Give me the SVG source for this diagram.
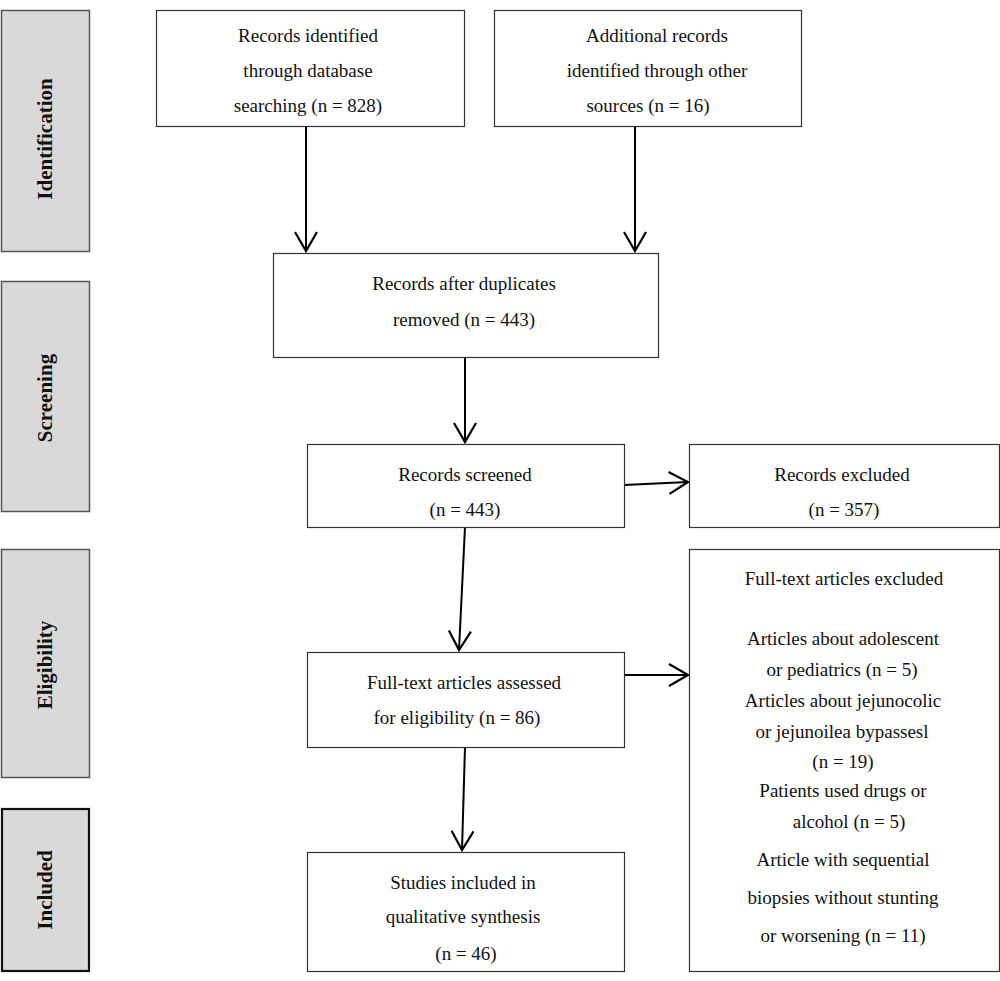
<svg xmlns="http://www.w3.org/2000/svg" width="1000" height="981" viewBox="0 0 1000 981">
<defs>
<marker id="arr" viewBox="0 0 24 24" refX="21" refY="12" markerWidth="24" markerHeight="24" markerUnits="userSpaceOnUse" orient="auto">
<path d="M2,1 L21,12 L2,23" fill="none" stroke="#000" stroke-width="2.2"/>
</marker>
<style>
.bar{fill:#d9d9d9;stroke:#555;stroke-width:1.5}
.box{fill:#fff;stroke:#333;stroke-width:1.2}
.t{font-family:"Liberation Serif","DejaVu Serif",serif;font-size:19px;fill:#111;text-anchor:middle}
.s{font-family:"Liberation Serif","DejaVu Serif",serif;font-size:21px;font-weight:bold;fill:#111;text-anchor:middle}
.c{stroke:#000;stroke-width:2;fill:none;marker-end:url(#arr)}
</style>
</defs>
<rect width="1000" height="981" fill="#fff"/>
<g id="stages">
<g id="identification"><rect class="bar" x="1.5" y="10.5" width="88" height="241"/><text class="s" transform="translate(52,139) rotate(-90)">Identification</text></g>
<g id="screening"><rect class="bar" x="1.5" y="281.5" width="88" height="230"/><text class="s" transform="translate(52,398) rotate(-90)">Screening</text></g>
<g id="eligibility"><rect class="bar" x="1.5" y="549.5" width="88" height="228"/><text class="s" transform="translate(52,665) rotate(-90)">Eligibility</text></g>
<g id="included"><rect class="bar" x="2" y="809" width="87" height="162" style="stroke:#111;stroke-width:2.2"/><text class="s" transform="translate(52,890) rotate(-90)">Included</text></g>
</g>
<g id="connectors">
<line class="c" x1="306" y1="126" x2="306" y2="251"/>
<line class="c" x1="635" y1="126" x2="635" y2="251"/>
<line class="c" x1="465" y1="357" x2="465" y2="442"/>
<line class="c" x1="465" y1="527" x2="459" y2="650"/>
<line class="c" x1="465" y1="747" x2="462" y2="850"/>
<line class="c" x1="624" y1="485" x2="688" y2="482"/>
<line class="c" x1="624" y1="675" x2="688" y2="675"/>
</g>
<g id="db"><rect class="box" x="156.5" y="10.5" width="308" height="116"/>
<text class="t" x="308" y="42">Records identified</text><text class="t" x="308" y="77">through database</text><text class="t" x="308" y="112">searching (n = 828)</text></g>
<g id="other"><rect class="box" x="494.5" y="10.5" width="307" height="116"/>
<text class="t" x="657" y="42">Additional records</text><text class="t" x="657" y="77">identified through other</text><text class="t" x="648" y="112">sources (n = 16)</text></g>
<g id="dup"><rect class="box" x="273.5" y="253.5" width="385" height="104"/>
<text class="t" x="464" y="290">Records after duplicates</text><text class="t" x="464" y="326">removed (n = 443)</text></g>
<g id="screened"><rect class="box" x="307.5" y="444.5" width="317" height="83"/>
<text class="t" x="465" y="481">Records screened</text><text class="t" x="465" y="516">(n = 443)</text></g>
<g id="excluded"><rect class="box" x="689.5" y="444.5" width="310" height="83"/>
<text class="t" x="842" y="481">Records excluded</text><text class="t" x="844" y="516">(n = 357)</text></g>
<g id="fulltext"><rect class="box" x="307.5" y="652.5" width="317" height="95"/>
<text class="t" x="464" y="689">Full-text articles assessed</text><text class="t" x="457" y="724">for eligibility (n = 86)</text></g>
<g id="ftexcluded"><rect class="box" x="689.5" y="549.5" width="310" height="422"/>
<text class="t" x="844" y="585">Full-text articles excluded</text>
<text class="t" x="843" y="645">Articles about adolescent</text>
<text class="t" x="842" y="676">or pediatrics (n = 5)</text>
<text class="t" x="843" y="707">Articles about jejunocolic</text>
<text class="t" x="842" y="738">or jejunoilea bypassesl</text>
<text class="t" x="843" y="768">(n = 19)</text>
<text class="t" x="843" y="797">Patients used drugs or</text>
<text class="t" x="849" y="828">alcohol (n = 5)</text>
<text class="t" x="843" y="866">Article with sequential</text>
<text class="t" x="843" y="904">biopsies without stunting</text>
<text class="t" x="843" y="942">or worsening (n = 11)</text></g>
<g id="studies"><rect class="box" x="307.5" y="852.5" width="317" height="119"/>
<text class="t" x="463" y="889">Studies included in</text><text class="t" x="463" y="923">qualitative synthesis</text><text class="t" x="466" y="960">(n = 46)</text></g>
</svg>
